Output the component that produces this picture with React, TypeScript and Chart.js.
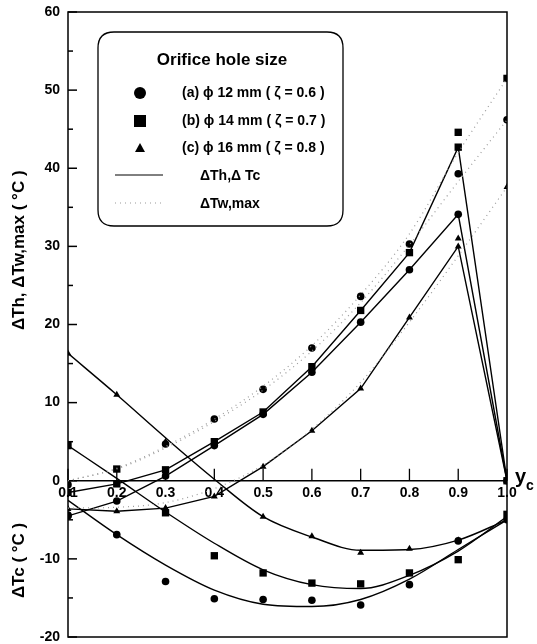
import React, { useEffect, useRef } from "react";
import { Chart, registerables } from "chart.js";
Chart.register(...registerables);

const FONT = "'Liberation Sans', Arial, sans-serif";

const yc = [0.1, 0.2, 0.3, 0.4, 0.5, 0.6, 0.7, 0.8, 0.9, 1.0];
const xTickLabels = ["0.1", "0.2", "0.3", "0.4", "0.5", "0.6", "0.7", "0.8", "0.9", "1.0"];
const yTickLabels = [60, 50, 40, 30, 20, 10, 0, -10, -20];

// ΔTh (solid polylines with markers)
const thCircle = [-4.5, -2.6, 0.6, 4.5, 8.5, 13.9, 20.3, 27.0, 34.1, 0];
const thSquare = [-1.5, -0.4, 1.4, 5.0, 8.8, 14.6, 21.8, 29.2, 42.7, 0];
const thTriangle = [-3.6, -3.9, -3.5, -2.0, 1.8, 6.4, 11.8, 20.9, 30.0, 0];

// ΔTw,max markers
const twCircle = [-0.5, null, 4.7, 7.9, 11.7, 17.0, 23.6, 30.3, 39.3, 46.2];
const twSquare = [null, null, null, null, null, null, null, null, 44.6, 51.5];
const twTriangle = [null, null, null, null, null, null, null, null, 31.0, 37.6];

// ΔTw,max dotted fits
const twFitCircle = [0, 1.5, 4.2, 7.6, 11.6, 16.6, 22.8, 30.2, 38.3, 46.2];
const twFitSquare = [0, 1.6, 4.4, 7.9, 12.1, 17.3, 23.8, 31.6, 42.0, 51.5];
const twFitTriangle = [-3.5, -3.4, -2.8, -1.0, 2.0, 6.6, 12.6, 20.3, 28.8, 37.6];

// ΔTc markers
const tcCircle = [-4.4, -6.9, -12.9, -15.1, -15.2, -15.3, -15.9, -13.3, -7.7, -5.0];
const tcSquare = [4.5, 1.5, -4.1, -9.6, -11.8, -13.1, -13.2, -11.8, -10.1, -4.3];
const tcTriangle = [16.3, 11.0, 5.0, null, -4.6, -7.1, -9.2, -8.7, -7.6, -5.0];

// ΔTc smooth fits
const tcFitCircle = [-2.5, -6.9, -10.8, -14.0, -15.8, -16.1, -15.2, -12.6, -8.8, -5.0];
const tcFitSquare = [4.5, 0.3, -4.0, -8.0, -11.4, -13.3, -13.8, -12.1, -9.0, -4.6];
const tcFitTriangle = [16.3, 11.0, 5.5, 0.2, -4.6, -7.2, -8.9, -8.8, -7.6, -5.0];

const legendRows = [
  { style: "circle", text: "(a) \u03D5 12 mm ( \u03B6 = 0.6 )" },
  { style: "rect", text: "(b) \u03D5 14 mm ( \u03B6 = 0.7 )" },
  { style: "triangle", text: "(c) \u03D5 16 mm ( \u03B6 = 0.8 )" },
];

function pts(arr: (number | null)[]) {
  return yc.map((x, i) => ({ x, y: arr[i] })).filter((p) => p.y !== null);
}

const markerStyle: any = {
  circle: { pointStyle: "circle", pointRadius: 3.8 },
  rect: { pointStyle: "rect", pointRadius: 5.2 },
  triangle: { pointStyle: "triangle", pointRadius: 4 },
};

const decor = {
  id: "decor",
  beforeDatasetsDraw(chart: any) {
    const { ctx, chartArea: a, scales } = chart;
    const x = scales.x, y = scales.y;
    ctx.save();
    ctx.strokeStyle = "#000";
    ctx.lineWidth = 1.5;
    ctx.strokeRect(a.left, a.top, a.right - a.left, a.bottom - a.top);
    const line = (x1: number, y1: number, x2: number, y2: number) => {
      ctx.beginPath();
      ctx.moveTo(x1, y1);
      ctx.lineTo(x2, y2);
      ctx.stroke();
    };
    for (let v = -20; v <= 60; v += 5) {
      const py = y.getPixelForValue(v);
      line(a.left, py, a.left + (v % 10 === 0 ? 9 : 5), py);
    }
    const y0 = y.getPixelForValue(0);
    ctx.lineWidth = 1.6;
    line(a.left, y0, a.right, y0);
    ctx.lineWidth = 1.3;
    yc.forEach((v) => {
      const px = x.getPixelForValue(v);
      line(px, y0, px, y0 - 12);
    });
    ctx.fillStyle = "#000";
    ctx.font = `bold 14px ${FONT}`;
    ctx.textAlign = "right";
    ctx.textBaseline = "middle";
    yTickLabels.forEach((v) => {
      ctx.fillText(String(v), a.left - 8, y.getPixelForValue(v));
    });
    ctx.textAlign = "center";
    ctx.textBaseline = "top";
    yc.forEach((v, i) => {
      ctx.fillText(xTickLabels[i], x.getPixelForValue(v), y0 + 5);
    });
    // x title
    ctx.textAlign = "left";
    ctx.textBaseline = "alphabetic";
    ctx.font = `bold 20px ${FONT}`;
    ctx.fillText("y", a.right + 8, y0 + 2);
    ctx.font = `bold 14px ${FONT}`;
    ctx.fillText("c", a.right + 19, y0 + 9);
    // y titles
    ctx.font = `bold 17px ${FONT}`;
    ctx.textAlign = "center";
    ctx.textBaseline = "middle";
    ctx.save();
    ctx.translate(19, y.getPixelForValue(29.5));
    ctx.rotate(-Math.PI / 2);
    ctx.fillText("\u0394Th, \u0394Tw,max ( \u00B0C )", 0, 0);
    ctx.restore();
    ctx.save();
    ctx.translate(19, y.getPixelForValue(-10.2));
    ctx.rotate(-Math.PI / 2);
    ctx.fillText("\u0394Tc ( \u00B0C )", 0, 0);
    ctx.restore();
    ctx.restore();
  },
  afterDraw(chart: any) {
    const { ctx } = chart;
    ctx.save();
    // legend box
    const bx = 98, by = 32, bw = 245, bh = 194, r = 16;
    ctx.strokeStyle = "#000";
    ctx.lineWidth = 1.3;
    ctx.fillStyle = "#fff";
    ctx.beginPath();
    ctx.moveTo(bx + r, by);
    ctx.lineTo(bx + bw - r, by);
    ctx.quadraticCurveTo(bx + bw, by, bx + bw, by + r);
    ctx.lineTo(bx + bw, by + bh - r);
    ctx.quadraticCurveTo(bx + bw, by + bh, bx + bw - r, by + bh);
    ctx.lineTo(bx + r, by + bh);
    ctx.quadraticCurveTo(bx, by + bh, bx, by + bh - r);
    ctx.lineTo(bx, by + r);
    ctx.quadraticCurveTo(bx, by, bx + r, by);
    ctx.closePath();
    ctx.fill();
    ctx.stroke();
    ctx.fillStyle = "#000";
    ctx.font = `bold 17px ${FONT}`;
    ctx.textAlign = "center";
    ctx.textBaseline = "middle";
    ctx.fillText("Orifice hole size", 222, 60);
    ctx.textAlign = "left";
    ctx.font = `bold 14px ${FONT}`;
    const rowsY = [93, 121, 148];
    legendRows.forEach((row, i) => {
      const cy = rowsY[i];
      ctx.beginPath();
      if (row.style === "circle") {
        ctx.arc(140, cy, 6, 0, Math.PI * 2);
      } else if (row.style === "rect") {
        ctx.rect(134, cy - 6, 12, 12);
      } else {
        ctx.moveTo(140, cy - 5);
        ctx.lineTo(145, cy + 4);
        ctx.lineTo(135, cy + 4);
        ctx.closePath();
      }
      ctx.fill();
      ctx.fillText(row.text, 182, cy);
    });
    ctx.lineWidth = 1;
    ctx.beginPath();
    ctx.moveTo(115, 175);
    ctx.lineTo(163, 175);
    ctx.stroke();
    ctx.fillText("\u0394Th,\u0394 Tc", 200, 176);
    ctx.strokeStyle = "#999";
    ctx.setLineDash([1, 4]);
    ctx.beginPath();
    ctx.moveTo(115, 203);
    ctx.lineTo(163, 203);
    ctx.stroke();
    ctx.setLineDash([]);
    ctx.fillText("\u0394Tw,max", 200, 204);
    ctx.restore();
  },
};

export default function App() {
  const ref = useRef<HTMLCanvasElement | null>(null);
  useEffect(() => {
    if (!ref.current) return;
    const solid = (data: any, style: string) => ({
      data: pts(data),
      borderColor: "#000",
      backgroundColor: "#000",
      borderWidth: 1.4,
      showLine: true,
      tension: 0,
      ...markerStyle[style],
      pointBorderWidth: 0,
    });
    const marks = (data: any, style: string) => ({
      data: pts(data),
      borderColor: "#000",
      backgroundColor: "#000",
      showLine: false,
      ...markerStyle[style],
      pointBorderWidth: 0,
    });
    const dotted = (data: any) => ({
      data: pts(data),
      borderColor: "#9a9a9a",
      borderWidth: 1.2,
      borderDash: [1, 4],
      showLine: true,
      pointRadius: 0,
      cubicInterpolationMode: "monotone",
    });
    const smooth = (data: any) => ({
      data: pts(data),
      borderColor: "#000",
      borderWidth: 1.4,
      showLine: true,
      pointRadius: 0,
      cubicInterpolationMode: "monotone",
    });
    const chart = new Chart(ref.current, {
      type: "scatter",
      data: {
        datasets: [
          dotted(twFitCircle),
          dotted(twFitSquare),
          dotted(twFitTriangle),
          smooth(tcFitCircle),
          smooth(tcFitSquare),
          smooth(tcFitTriangle),
          solid(thCircle, "circle"),
          solid(thSquare, "rect"),
          solid(thTriangle, "triangle"),
          marks(twCircle, "circle"),
          marks(twSquare, "rect"),
          marks(twTriangle, "triangle"),
          marks(tcCircle, "circle"),
          marks(tcSquare, "rect"),
          marks(tcTriangle, "triangle"),
        ] as any,
      },
      options: {
        responsive: false,
        animation: false,
        layout: { padding: { left: 68, right: 30, top: 12, bottom: 7 } },
        plugins: { legend: { display: false }, tooltip: { enabled: false } },
        scales: {
          x: { type: "linear", min: 0.1, max: 1.0, display: false },
          y: { type: "linear", min: -20, max: 60, display: false },
        },
        elements: { line: { fill: false } },
      },
      plugins: [decor],
    });
    return () => chart.destroy();
  }, []);
  return (
    <div style={{ position: "fixed", left: 0, top: 0, width: 537, height: 644, background: "#fff" }}>
      <canvas ref={ref} width={537} height={644} style={{ display: "block" }} />
    </div>
  );
}
